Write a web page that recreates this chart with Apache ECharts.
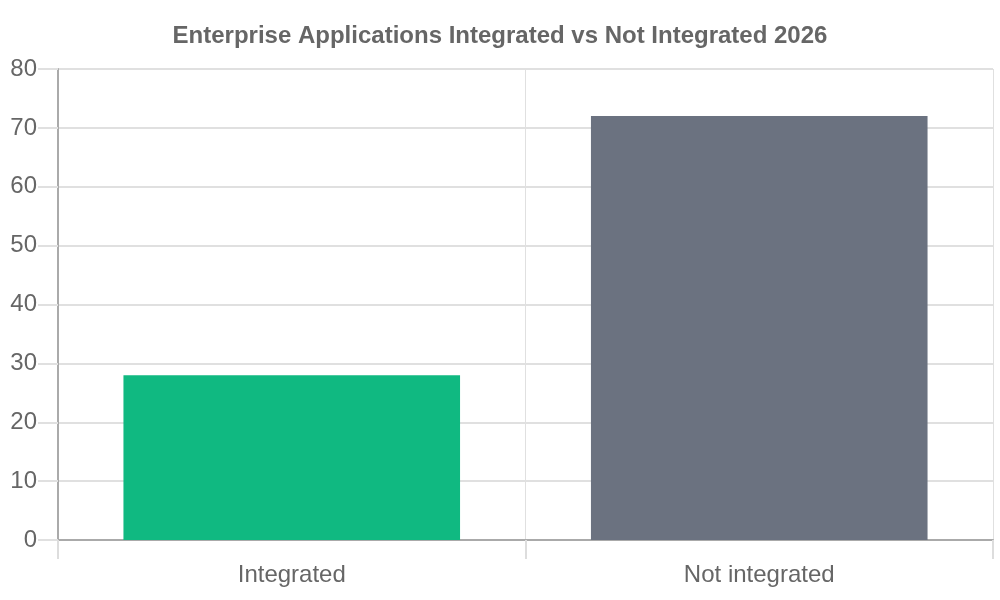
<!DOCTYPE html>
<html>
<head>
<meta charset="utf-8">
<script src="https://cdn.jsdelivr.net/npm/echarts@6/dist/echarts.min.js"></script>
<style>html,body{margin:0;padding:0;background:#fff}#c{width:1000px;height:600px}</style>
</head>
<body>
<div id="c"></div>
<script>
const categories = ['Integrated', 'Not integrated'];
const values = [28, 72];
const barColors = ['#10b981', '#6b7280'];
const yTicks = [0, 10, 20, 30, 40, 50, 60, 70, 80];

const chart = echarts.init(document.getElementById('c'), null, {renderer: 'canvas'});
chart.setOption({
  animation: false,
  backgroundColor: '#ffffff',
  textStyle: {fontFamily: 'Liberation Sans, Arial, sans-serif'},
  title: {
    text: 'Enterprise Applications Integrated vs Not Integrated 2026',
    left: 'center', top: 19,
    textStyle: {fontSize: 24, fontWeight: 'bold', color: '#666666', fontFamily: 'Liberation Sans, Arial, sans-serif'}
  },
  grid: {left: 58, right: 7, top: 69, bottom: 60, containLabel: false},
  xAxis: {
    type: 'category',
    data: categories,
    axisLine: {show: true, lineStyle: {color: '#aaaaaa', width: 2}},
    axisTick: {show: true, length: 19, lineStyle: {color: '#dddddd', width: 2}},
    splitLine: {show: true, lineStyle: {color: '#e0e0e0', width: 1}},
    axisLabel: {fontSize: 24, color: '#666666', margin: 23}
  },
  yAxis: {
    type: 'value',
    min: yTicks[0], max: yTicks[yTicks.length - 1], interval: 10,
    axisLine: {show: true, lineStyle: {color: '#aaaaaa', width: 2}},
    axisTick: {show: true, length: 20, lineStyle: {color: '#e0e0e0', width: 2}},
    splitLine: {show: true, lineStyle: {color: '#e0e0e0', width: 2}},
    axisLabel: {fontSize: 24, color: '#666666', margin: 21}
  },
  series: [{
    type: 'bar',
    data: values.map((v, i) => ({value: v, itemStyle: {color: barColors[i]}})),
    barWidth: '72%'
  }]
});
</script>
</body>
</html>
